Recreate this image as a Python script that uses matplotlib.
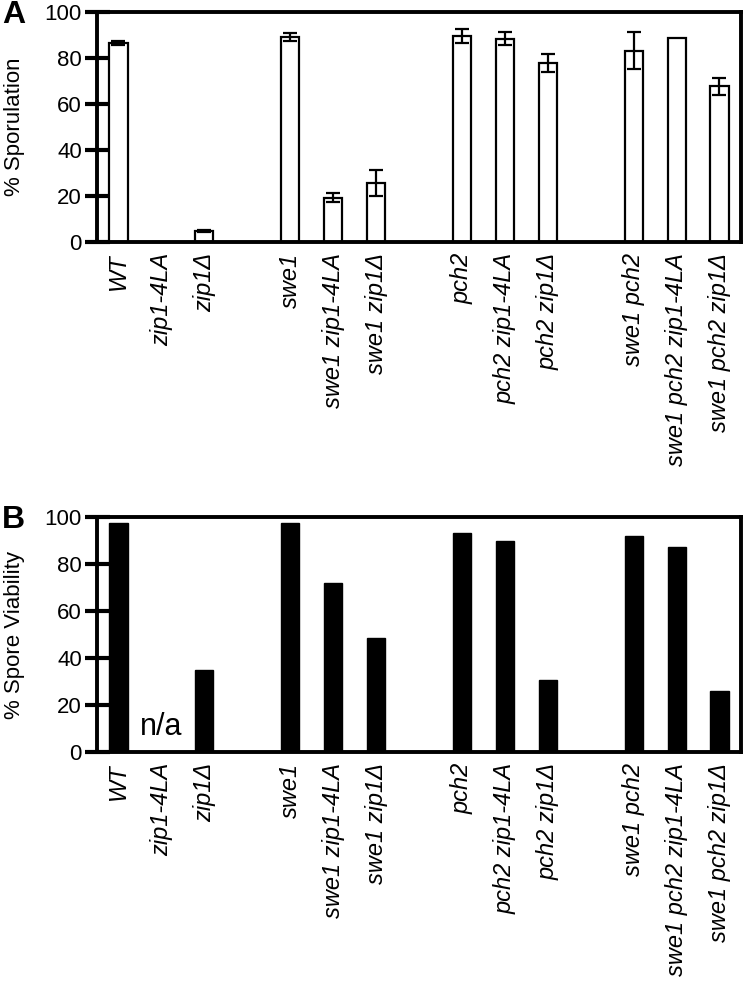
import numpy as np
import matplotlib
matplotlib.use("Agg")
import matplotlib.pyplot as plt

plt.rcParams['font.family'] = ['Liberation Sans', 'DejaVu Sans']

# strains (three per group)
strains = ["WT", "zip1-4LA", "zip1\u0394",
           "swe1", "swe1 zip1-4LA", "swe1 zip1\u0394",
           "pch2", "pch2 zip1-4LA", "pch2 zip1\u0394",
           "swe1 pch2", "swe1 pch2 zip1-4LA", "swe1 pch2 zip1\u0394"]

# panel A: % sporulation with error bars
sporulation = [86.6, 0.0, 4.7, 89.0, 19.2, 25.5, 89.7, 88.3, 77.9, 83.1, 88.6, 67.7]
spor_err = [0.8, 0.0, 0.4, 1.7, 2.0, 5.7, 3.1, 2.8, 3.8, 8.1, 0.0, 3.8]

# panel B: % spore viability (zip1-4LA not applicable)
viability = [97.3, 0.0, 34.9, 97.6, 72.0, 48.5, 93.0, 89.8, 30.8, 91.8, 87.4, 26.0]

# bar positions: gap after each group of three
x = np.array([i + i // 3 for i in range(len(strains))])

fig = plt.figure(figsize=(7.47, 9.81), dpi=100)
axA = fig.add_axes([0.1299, 0.7533, 0.862, 0.2345])
axB = fig.add_axes([0.1299, 0.2334, 0.862, 0.2396])


def style(ax, ylabel):
    ax.set_xlim(-0.5, 14.5)
    ax.set_ylim(0, 100)
    ax.set_yticks([0, 20, 40, 60, 80, 100])
    ax.set_xticks(x)
    ax.set_xticklabels(strains, rotation=90, fontsize=17, style='italic')
    ax.tick_params(axis='x', length=0, pad=8)
    ax.tick_params(axis='y', direction='inout', length=18, width=3,
                   labelsize=16, pad=2)
    for s in ax.spines.values():
        s.set_linewidth(2.8)
    ax.set_ylabel(ylabel, fontsize=16)
    ax.yaxis.set_label_coords(-0.112, 0.5)


err = np.array(spor_err)
has_err = err > 0
axA.bar(x, sporulation, width=0.42, color='white', edgecolor='black',
        linewidth=1.6, zorder=2)
axA.errorbar(x[has_err], np.array(sporulation)[has_err], yerr=err[has_err],
             fmt='none', ecolor='black', elinewidth=1.6, capsize=4.7,
             capthick=1.6, zorder=3)
style(axA, "% Sporulation")

axB.bar(x, viability, width=0.42, color='black', edgecolor='black', zorder=2)
axB.text(x[1], 10.5, "n/a", ha='center', va='center', fontsize=22)
style(axB, "% Spore Viability")

fig.text(0.003, 1 - 15 / 981, "A", fontsize=23, fontweight='bold',
         ha='left', va='center')
fig.text(0.003, 1 - 520 / 981, "B", fontsize=23, fontweight='bold',
         ha='left', va='center')

fig.savefig("out.png", dpi=100)
